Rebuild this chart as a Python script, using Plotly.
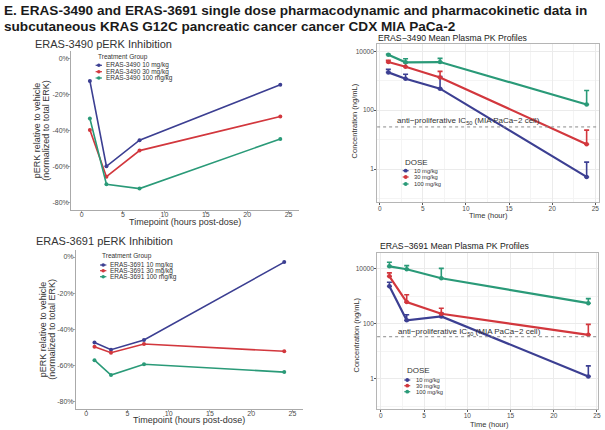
import plotly.graph_objects as go

W, H = 605, 430
def fx(p): return p / W
def fy(p): return 1 - p / H

# ---------------- data ----------------
time_h = [1, 3, 7, 24]
x_ticks = [0, 5, 10, 15, 20, 25]
perk_tickvals = [0, -20, -40, -60, -80]
perk_ticktext = ["0%", "-20%", "-40%", "-60%", "-80%"]
pk_tickvals = [1, 100, 10000]
pk_ticktext = ["1", "100", "10000"]
dose_labels = ["10 mg/kg", "30 mg/kg", "100 mg/kg"]
group_3490 = ["ERAS-3490 10 mg/kg", "ERAS-3490 30 mg/kg", "ERAS-3490 100 mg/kg"]
group_3691 = ["ERAS-3691 10 mg/kg", "ERAS-3691 30 mg/kg", "ERAS-3691 100 mg/kg"]

# pERK relative to vehicle (%)
perk_3490_10 = [-12.6, -60.0, -45.5, -14.8]
perk_3490_30 = [-39.8, -65.8, -51.3, -32.4]
perk_3490_100 = [-33.5, -70.0, -72.4, -44.8]
perk_3691_10 = [-47.2, -51.2, -45.9, -2.8]
perk_3691_30 = [-49.6, -52.9, -48.1, -52.1]
perk_3691_100 = [-57.0, -65.2, -59.3, -63.6]

# Plasma PK (ng/mL): mean and mean+SD
pk_3490_10_mean = [1930, 1170, 540, 0.54]
pk_3490_10_upper = [2450, 1660, 1380, 1.72]
pk_3490_30_mean = [4330, 3000, 1300, 7.0]
pk_3490_30_upper = [5000, 4100, 2090, 21]
pk_3490_100_mean = [7680, 4230, 4330, 157]
pk_3490_100_upper = [7900, 5600, 5770, 470]

pk_3691_10_mean = [2340, 134, 186, 1.22]
pk_3691_10_upper = [3270, 215, 250, 2.95]
pk_3691_30_mean = [5400, 620, 234, 40]
pk_3691_30_upper = [7160, 1150, 372, 96]
pk_3691_100_mean = [12400, 9700, 4570, 565]
pk_3691_100_upper = [17400, 13200, 10500, 830]

ic50_3490 = 27
ic50_3691 = 34

colors = ["#3C3F92", "#D2373D", "#2A9A78"]
FONT = "Liberation Sans, Arial, sans-serif"

fig = go.Figure()

perk_sets = [
    ("x", "y", [perk_3490_10, perk_3490_30, perk_3490_100], group_3490),
    ("x3", "y3", [perk_3691_10, perk_3691_30, perk_3691_100], group_3691),
]
for xa, ya, series, names in perk_sets:
    for vals, name, c in zip(series, names, colors):
        fig.add_trace(go.Scatter(x=time_h, y=vals, name=name, xaxis=xa, yaxis=ya,
                                 mode="lines+markers", showlegend=False,
                                 line=dict(color=c, width=1.6),
                                 marker=dict(color=c, size=4)))

pk_sets = [
    ("x2", "y2", [(pk_3490_10_mean, pk_3490_10_upper), (pk_3490_30_mean, pk_3490_30_upper),
                  (pk_3490_100_mean, pk_3490_100_upper)]),
    ("x4", "y4", [(pk_3691_10_mean, pk_3691_10_upper), (pk_3691_30_mean, pk_3691_30_upper),
                  (pk_3691_100_mean, pk_3691_100_upper)]),
]
for xa, ya, series in pk_sets:
    for (m, u), name, c in zip(series, dose_labels, colors):
        fig.add_trace(go.Scatter(x=time_h, y=m, name=name, xaxis=xa, yaxis=ya,
                                 mode="lines+markers", showlegend=False,
                                 line=dict(color=c, width=2.2),
                                 marker=dict(color=c, size=4.5),
                                 error_y=dict(type="data", symmetric=False,
                                              array=[a - b for a, b in zip(u, m)],
                                              arrayminus=[0] * len(m),
                                              color=c, thickness=1.6, width=2.5)))

tickfont = dict(family=FONT, size=7, color="#4d4d4d")

def perk_axes(xdom, ydom, xr, yr):
    xa = dict(domain=[fx(xdom[0]), fx(xdom[1])], range=xr, showline=True, linecolor="#aaaaaa",
              linewidth=1, showgrid=False, zeroline=False, ticks="outside", ticklen=2,
              tickcolor="#aaaaaa", tickvals=x_ticks, tickfont=tickfont, ticklabelstandoff=-4,
              ticklabeloverflow="allow")
    ya = dict(domain=[fy(ydom[1]), fy(ydom[0])], range=yr, showline=True, linecolor="#aaaaaa",
              linewidth=1, showgrid=False, zeroline=False, ticks="outside", ticklen=2,
              tickcolor="#aaaaaa", tickmode="array", tickvals=perk_tickvals,
              ticktext=perk_ticktext, tickfont=tickfont, ticklabelstandoff=-2,
              ticklabeloverflow="allow")
    return xa, ya

def pk_axes(xdom, ydom, xr, yr):
    tf = dict(family=FONT, size=6.5, color="#4d4d4d")
    xa = dict(domain=[fx(xdom[0]), fx(xdom[1])], range=xr, showline=True, mirror=True,
              linecolor="#b5b5b5", linewidth=1, showgrid=True, gridcolor="#ebebeb", gridwidth=0.8,
              zeroline=False, ticks="outside", ticklen=2, tickcolor="#555555",
              tickvals=x_ticks, tickfont=tf, ticklabelstandoff=-2, ticklabeloverflow="allow",
              minor=dict(tickvals=[2.5, 7.5, 12.5, 17.5, 22.5], showgrid=True,
                         gridcolor="#f4f4f4", gridwidth=0.6, ticks=""))
    ya = dict(domain=[fy(ydom[1]), fy(ydom[0])], type="log", range=yr, showline=True, mirror=True,
              linecolor="#b5b5b5", linewidth=1, showgrid=True, gridcolor="#ebebeb", gridwidth=0.8,
              zeroline=False, ticks="outside", ticklen=2, tickcolor="#555555",
              tickvals=pk_tickvals, ticktext=pk_ticktext, tickfont=tf, ticklabelstandoff=-1,
              ticklabeloverflow="allow",
              minor=dict(tickvals=[0.1, 10, 1000, 100000], showgrid=True,
                         gridcolor="#f4f4f4", gridwidth=0.6, ticks=""))
    return xa, ya

x1, y1 = perk_axes((71.6, 300.4), (51, 209.5), [-1.25, 26.25], [-84, 4])
x3, y3 = perk_axes((76.3, 304.3), (249.8, 409), [-1.25, 26.25], [-84, 4])
x2, y2 = pk_axes((379, 601.7), (44, 202.3), [-0.3, 25.4], [-1.13, 4.25])
x4, y4 = pk_axes((379, 601), (253, 409), [-0.42, 25.12], [-1.1, 4.58])
x1["anchor"] = "y"; y1["anchor"] = "x"
x2["anchor"] = "y2"; y2["anchor"] = "x2"
x3["anchor"] = "y3"; y3["anchor"] = "x3"
x4["anchor"] = "y4"; y4["anchor"] = "x4"

ann = []
def text(x, y, s, size, color="#333333", xanchor="left", angle=0):
    ann.append(dict(x=fx(x), y=fy(y), xref="paper", yref="paper", text=s, showarrow=False,
                    xanchor=xanchor, yanchor="middle", textangle=angle,
                    font=dict(family=FONT, size=size, color=color)))

shapes = []
def glyph(x, y, c, half=3.2, r=1.8):
    shapes.append(dict(type="line", xref="paper", yref="paper", x0=fx(x - half), x1=fx(x + half),
                       y0=fy(y), y1=fy(y), line=dict(color=c, width=1.2)))
    shapes.append(dict(type="circle", xref="paper", yref="paper", x0=fx(x - r), x1=fx(x + r),
                       y0=fy(y + r), y1=fy(y - r), fillcolor=c, line=dict(width=0)))

# main title
text(2, 11, "<b>E. ERAS-3490 and ERAS-3691 single dose pharmacodynamic and pharmacokinetic data in</b>", 13.6, "#1a1a1a")
text(2, 27, "<b>subcutaneous KRAS G12C pancreatic cancer cancer CDX MIA PaCa-2</b>", 13.6, "#1a1a1a")

# pERK panel 1
text(33, 44, "ERAS-3490 pERK Inhibition", 11, "#333333")
text(37.5, 130, "pERK relative to vehicle", 9, "#333333", "center", -90)
text(46, 130, "(normalized to total ERK)", 9, "#333333", "center", -90)
text(186, 222, "Timepoint (hours post-dose)", 9, "#333333", "center")
text(96.7, 57.3, "Treatment Group", 6.5)
for yy, name, c in zip([65.3, 71.7, 78], group_3490, colors):
    glyph(99.3, yy, c)
    text(105, yy, name, 6.5)

# pERK panel 3
text(44, 329.4, "pERK relative to vehicle", 9, "#333333", "center", -90)
text(52.5, 329.4, "(normalized to total ERK)", 9, "#333333", "center", -90)
text(34.3, 240.7, "ERAS-3691 pERK Inhibition", 11, "#333333")
text(190.3, 420, "Timepoint (hours post-dose)", 9, "#333333", "center")
text(100.7, 255.7, "Treatment Group", 6.5)
for yy, name, c in zip([265, 270.7, 276.7], group_3691, colors):
    glyph(103.7, yy, c)
    text(108.7, yy, name, 6.5)

# PK panel 2
text(378, 37.5, "ERAS\u22123490 Mean Plasma PK Profiles", 8.7, "#1a1a1a")
text(356.7, 120.5, "Concentration (ng/mL)", 7.5, "#333333", "center", -90)
text(490.7, 215, "Time (hour)", 7.5, "#333333", "center")
text(396.7, 121, "anti\u2212proliferative IC<sub>50</sub> (MIA PaCa\u22122 cell)", 8, "#333333")
text(405.3, 162, "DOSE", 8)
for yy, name, c in zip([170.7, 177, 184], dose_labels, colors):
    glyph(407.7, yy, c, half=3, r=1.9)
    text(414, yy, name, 5.8)

# PK panel 4
text(380, 246, "ERAS\u22123691 Mean Plasma PK Profiles", 8.7, "#1a1a1a")
text(357.3, 335, "Concentration (ng/mL)", 7.5, "#333333", "center", -90)
text(491.7, 424.3, "Time (hour)", 7.5, "#333333", "center")
text(398, 331.7, "anti\u2212proliferative IC<sub>50</sub> (MIA PaCa\u22122 cell)", 8, "#333333")
text(406.7, 370.7, "DOSE", 8)
for yy, name, c in zip([380, 385.7, 391.7], dose_labels, colors):
    glyph(409.3, yy, c, half=3, r=1.9)
    text(415.7, yy, name, 5.8)

# IC50 reference lines
for xa, ya, v in [("x2", "y2", ic50_3490), ("x4", "y4", ic50_3691)]:
    shapes.append(dict(type="line", xref=xa + " domain", yref=ya, x0=0, x1=1, y0=v, y1=v,
                       line=dict(color="#8a8a8a", width=1, dash="dot")))

fig.update_layout(width=W, height=H, autosize=False,
                  margin=dict(l=0, r=0, t=0, b=0),
                  paper_bgcolor="white", plot_bgcolor="white",
                  font=dict(family=FONT),
                  xaxis=x1, yaxis=y1, xaxis2=x2, yaxis2=y2, xaxis3=x3, yaxis3=y3,
                  xaxis4=x4, yaxis4=y4,
                  annotations=ann, shapes=shapes, showlegend=False)

fig.write_html("out.html", config={"displayModeBar": False},
               post_script="document.body.style.margin='0px';")
